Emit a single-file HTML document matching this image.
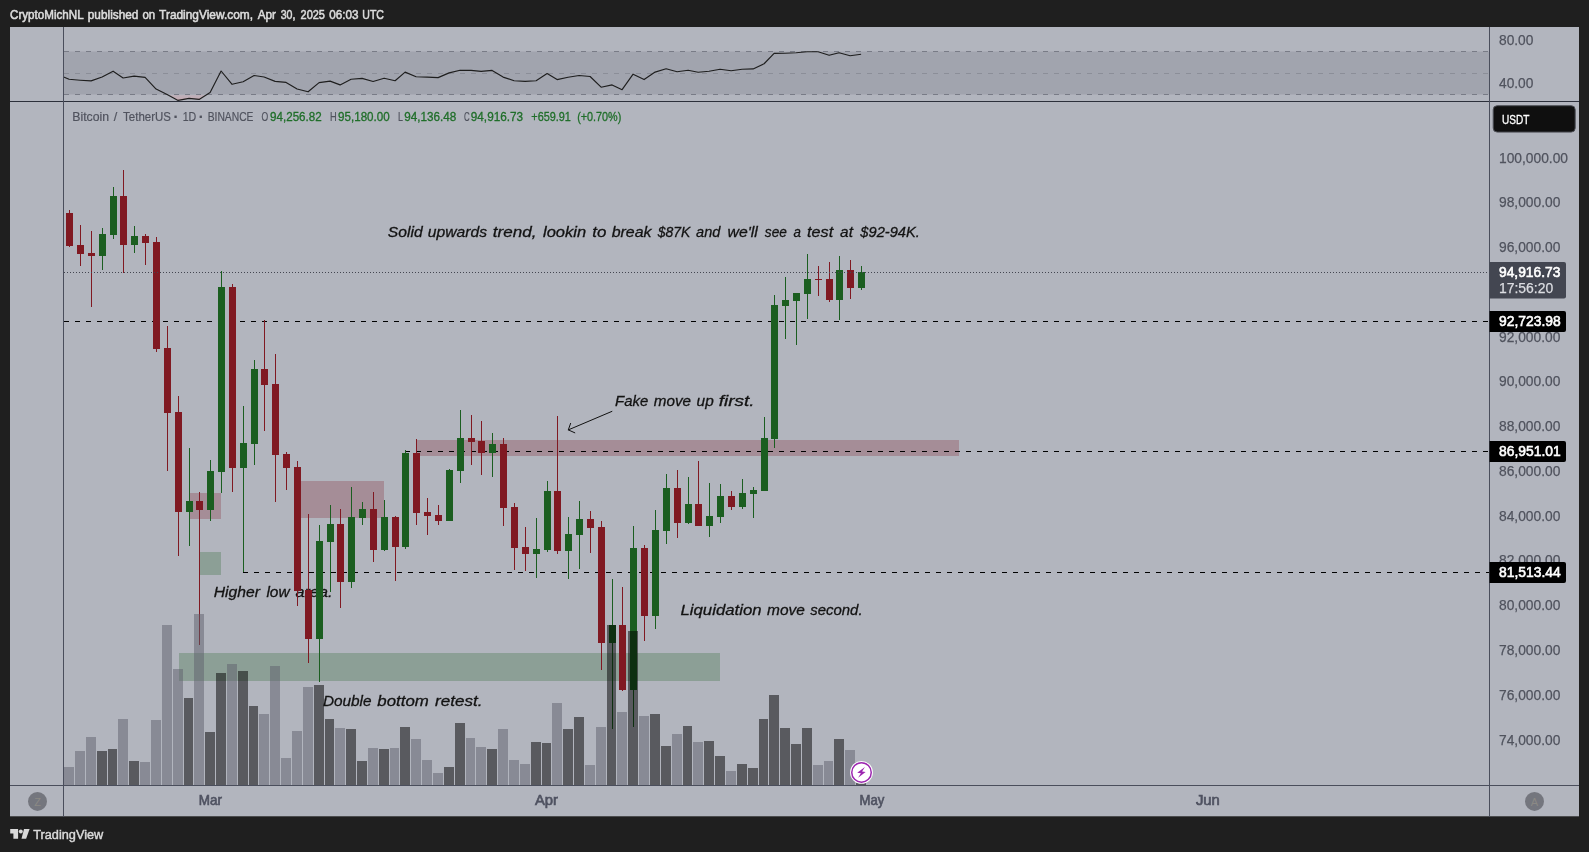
<!DOCTYPE html>
<html lang="en">
<head>
<meta charset="utf-8">
<title>BTCUSDT chart - CryptoMichNL on TradingView</title>
<style>
html,body{margin:0;padding:0;background:#1f1f1f;}
body{width:1589px;height:852px;overflow:hidden;font-family:"Liberation Sans", sans-serif;}
svg{display:block;}
text{white-space:pre;}
</style>
</head>
<body>
<svg width="1589" height="852" viewBox="0 0 1589 852">
<rect x="0" y="0" width="1589" height="852" fill="#1f1f1f"/>
<rect x="10" y="27" width="1569" height="789.3" fill="#b2b5be"/>
<g id="rsi">
<rect x="64" y="51.5" width="1425" height="43" fill="#a1a4ae"/>
<clipPath id="os"><rect x="150" y="95" width="70" height="6"/></clipPath>
<linearGradient id="osg" gradientUnits="userSpaceOnUse" x1="0" y1="94" x2="0" y2="101"><stop offset="0" stop-color="#caa9b1" stop-opacity="0.25"/><stop offset="1" stop-color="#caa9b1" stop-opacity="1"/></linearGradient>
<polygon points="64,94.5 63.6,77 69.1,79.3 80.1,80.2 91.1,80.9 102.1,77 113.1,71.2 123.1,78 134.1,76.1 145.1,77.4 156.1,89.1 167.1,94.4 178.1,100.4 189.1,98.4 199.1,99.4 210.1,92.4 221.1,71 232.1,84.3 243.1,81.75 254.1,75.5 264.1,77 275.1,81.4 286.1,82.4 297.1,89 308.1,91.8 319.1,82.6 330.1,81.1 340.1,84.9 351.1,79.2 362.1,78.35 373.1,81.5 384.1,78.2 395.1,80.7 405.1,72.1 416.1,76.7 427.1,77.1 438.1,77.6 449.1,72.9 460.1,70.2 471.1,70.4 481.1,71.4 492.1,70.4 503.1,77.1 514.1,80.7 525.1,81.4 536.1,80.7 547.1,73.6 557.1,79.6 568.1,77.3 579.1,75.5 590.1,76.5 601.1,87.2 612.1,84.9 622.1,89.7 633.1,74.2 644.1,79.6 655.1,72.1 666.1,68.8 677.1,71.7 688.1,70.2 698.1,72.3 709.1,71.3 720.1,69.3 731.1,70.7 742.1,69.3 753.1,68.9 764.1,63.75 774.1,53.4 785.1,53.2 796.1,52.8 807.1,51.7 818.1,51.7 829.1,55.3 839.1,52.8 850.1,55.7 861.1,54.3 862,94.5" fill="url(#osg)" clip-path="url(#os)"/>
<line x1="64" y1="51.5" x2="1489" y2="51.5" stroke="#787b86" stroke-width="1" stroke-dasharray="5 6" shape-rendering="crispEdges" opacity="1"/>
<line x1="64" y1="73.5" x2="1489" y2="73.5" stroke="#8b8e98" stroke-width="1" stroke-dasharray="5 6" shape-rendering="crispEdges" opacity="1"/>
<line x1="64" y1="94.5" x2="1489" y2="94.5" stroke="#787b86" stroke-width="1" stroke-dasharray="5 6" shape-rendering="crispEdges" opacity="1"/>
<polyline points="63.6,77 69.1,79.3 80.1,80.2 91.1,80.9 102.1,77 113.1,71.2 123.1,78 134.1,76.1 145.1,77.4 156.1,89.1 167.1,94.4 178.1,100.4 189.1,98.4 199.1,99.4 210.1,92.4 221.1,71 232.1,84.3 243.1,81.75 254.1,75.5 264.1,77 275.1,81.4 286.1,82.4 297.1,89 308.1,91.8 319.1,82.6 330.1,81.1 340.1,84.9 351.1,79.2 362.1,78.35 373.1,81.5 384.1,78.2 395.1,80.7 405.1,72.1 416.1,76.7 427.1,77.1 438.1,77.6 449.1,72.9 460.1,70.2 471.1,70.4 481.1,71.4 492.1,70.4 503.1,77.1 514.1,80.7 525.1,81.4 536.1,80.7 547.1,73.6 557.1,79.6 568.1,77.3 579.1,75.5 590.1,76.5 601.1,87.2 612.1,84.9 622.1,89.7 633.1,74.2 644.1,79.6 655.1,72.1 666.1,68.8 677.1,71.7 688.1,70.2 698.1,72.3 709.1,71.3 720.1,69.3 731.1,70.7 742.1,69.3 753.1,68.9 764.1,63.75 774.1,53.4 785.1,53.2 796.1,52.8 807.1,51.7 818.1,51.7 829.1,55.3 839.1,52.8 850.1,55.7 861.1,54.3" fill="none" stroke="#1e1e1e" stroke-width="1.15" stroke-linejoin="round"/>
</g>
<g id="drawings">
<rect x="190" y="493" width="31" height="26" fill="rgba(128,25,34,0.25)"/>
<rect x="200" y="552" width="21" height="23" fill="rgba(27,94,32,0.25)"/>
<rect x="301" y="481" width="83" height="37" fill="rgba(128,25,34,0.25)"/>
<rect x="417" y="440" width="542" height="16" fill="rgba(128,25,34,0.25)"/>
<rect x="179" y="653" width="541" height="28" fill="rgba(27,94,32,0.25)"/>
<line x1="64" y1="321.5" x2="1489" y2="321.5" stroke="#000" stroke-width="1" stroke-dasharray="5 6" shape-rendering="crispEdges"/>
<line x1="405" y1="451.5" x2="1489" y2="451.5" stroke="#000" stroke-width="1" stroke-dasharray="5 6" shape-rendering="crispEdges"/>
<line x1="243" y1="572.5" x2="1489" y2="572.5" stroke="#000" stroke-width="1" stroke-dasharray="5 6" shape-rendering="crispEdges"/>
<g stroke="#111" stroke-width="1" fill="none" stroke-linecap="round"><line x1="611.9" y1="411.4" x2="568.3" y2="429.9"/><polyline points="570.6,423.4 568.3,429.9 574.8,432.8"/></g>
</g>
<g id="notes" font-family='"Liberation Sans", sans-serif' style="filter:brightness(1)" stroke="#131313" stroke-width="0.3">
<text x="387.8" y="236.8" font-size="15" fill="#131313" font-style="italic" textLength="34.8" lengthAdjust="spacingAndGlyphs">Solid</text>
<text x="427.7" y="236.8" font-size="15" fill="#131313" font-style="italic" textLength="59.3" lengthAdjust="spacingAndGlyphs">upwards</text>
<text x="492.8" y="236.8" font-size="15" fill="#131313" font-style="italic" textLength="43.7" lengthAdjust="spacingAndGlyphs">trend,</text>
<text x="543" y="236.8" font-size="15" fill="#131313" font-style="italic" textLength="43.2" lengthAdjust="spacingAndGlyphs">lookin</text>
<text x="592.3" y="236.8" font-size="15" fill="#131313" font-style="italic" textLength="14.1" lengthAdjust="spacingAndGlyphs">to</text>
<text x="611.7" y="236.8" font-size="15" fill="#131313" font-style="italic" textLength="39.9" lengthAdjust="spacingAndGlyphs">break</text>
<text x="657.7" y="236.8" font-size="15" fill="#131313" font-style="italic" textLength="32.6" lengthAdjust="spacingAndGlyphs">$87K</text>
<text x="696.1" y="236.8" font-size="15" fill="#131313" font-style="italic" textLength="24.3" lengthAdjust="spacingAndGlyphs">and</text>
<text x="727.5" y="236.8" font-size="15" fill="#131313" font-style="italic" textLength="30.3" lengthAdjust="spacingAndGlyphs">we'll</text>
<text x="764.8" y="236.8" font-size="15" fill="#131313" font-style="italic" textLength="22.1" lengthAdjust="spacingAndGlyphs">see</text>
<text x="793.5" y="236.8" font-size="15" fill="#131313" font-style="italic" textLength="7.4" lengthAdjust="spacingAndGlyphs">a</text>
<text x="807.1" y="236.8" font-size="15" fill="#131313" font-style="italic" textLength="26.1" lengthAdjust="spacingAndGlyphs">test</text>
<text x="840.1" y="236.8" font-size="15" fill="#131313" font-style="italic" textLength="12.8" lengthAdjust="spacingAndGlyphs">at</text>
<text x="860.3" y="236.8" font-size="15" fill="#131313" font-style="italic" textLength="59.6" lengthAdjust="spacingAndGlyphs">$92-94K.</text>
<text x="615.1" y="405.7" font-size="15" fill="#131313" font-style="italic" textLength="33.2" lengthAdjust="spacingAndGlyphs">Fake</text>
<text x="653.8" y="405.7" font-size="15" fill="#131313" font-style="italic" textLength="37.3" lengthAdjust="spacingAndGlyphs">move</text>
<text x="696.6" y="405.7" font-size="15" fill="#131313" font-style="italic" textLength="17.1" lengthAdjust="spacingAndGlyphs">up</text>
<text x="718.8" y="405.7" font-size="15" fill="#131313" font-style="italic" textLength="35.7" lengthAdjust="spacingAndGlyphs">first.</text>
<text x="213.7" y="596.7" font-size="15" fill="#131313" font-style="italic" textLength="46.2" lengthAdjust="spacingAndGlyphs">Higher</text>
<text x="266.4" y="596.7" font-size="15" fill="#131313" font-style="italic" textLength="23.2" lengthAdjust="spacingAndGlyphs">low</text>
<text x="295.6" y="596.7" font-size="15" fill="#131313" font-style="italic" textLength="36.8" lengthAdjust="spacingAndGlyphs">area.</text>
<text x="680.5" y="614.7" font-size="15" fill="#131313" font-style="italic" textLength="81.1" lengthAdjust="spacingAndGlyphs">Liquidation</text>
<text x="767.1" y="614.7" font-size="15" fill="#131313" font-style="italic" textLength="37.8" lengthAdjust="spacingAndGlyphs">move</text>
<text x="810.2" y="614.7" font-size="15" fill="#131313" font-style="italic" textLength="52.4" lengthAdjust="spacingAndGlyphs">second.</text>
<text x="322.9" y="705.5" font-size="15" fill="#131313" font-style="italic" textLength="48.7" lengthAdjust="spacingAndGlyphs">Double</text>
<text x="377.3" y="705.5" font-size="15" fill="#131313" font-style="italic" textLength="51.5" lengthAdjust="spacingAndGlyphs">bottom</text>
<text x="435.1" y="705.5" font-size="15" fill="#131313" font-style="italic" textLength="47.5" lengthAdjust="spacingAndGlyphs">retest.</text>
</g>
<g id="candles" shape-rendering="crispEdges">
<rect x="69" y="210" width="1" height="37" fill="#801922"/>
<rect x="66" y="213" width="7" height="33" fill="#801922"/>
<rect x="80" y="225" width="1" height="41" fill="#801922"/>
<rect x="77" y="245" width="7" height="9" fill="#801922"/>
<rect x="91" y="231" width="1" height="76" fill="#801922"/>
<rect x="88" y="253" width="7" height="3" fill="#801922"/>
<rect x="102" y="228" width="1" height="42" fill="#1b5e20"/>
<rect x="99" y="234" width="7" height="22" fill="#1b5e20"/>
<rect x="113" y="187" width="1" height="52" fill="#1b5e20"/>
<rect x="110" y="196" width="7" height="39" fill="#1b5e20"/>
<rect x="123" y="170" width="1" height="103" fill="#801922"/>
<rect x="120" y="196" width="7" height="49" fill="#801922"/>
<rect x="134" y="226" width="1" height="27" fill="#1b5e20"/>
<rect x="131" y="236" width="7" height="9" fill="#1b5e20"/>
<rect x="145" y="234" width="1" height="31" fill="#801922"/>
<rect x="142" y="236" width="7" height="7" fill="#801922"/>
<rect x="156" y="237" width="1" height="115" fill="#801922"/>
<rect x="153" y="242" width="7" height="107" fill="#801922"/>
<rect x="167" y="326" width="1" height="145" fill="#801922"/>
<rect x="164" y="348" width="7" height="65" fill="#801922"/>
<rect x="178" y="396" width="1" height="160" fill="#801922"/>
<rect x="175" y="412" width="7" height="100" fill="#801922"/>
<rect x="189" y="448" width="1" height="98" fill="#1b5e20"/>
<rect x="186" y="501" width="7" height="11" fill="#1b5e20"/>
<rect x="199" y="492" width="1" height="153" fill="#801922"/>
<rect x="196" y="501" width="7" height="9" fill="#801922"/>
<rect x="210" y="460" width="1" height="61" fill="#1b5e20"/>
<rect x="207" y="471" width="7" height="39" fill="#1b5e20"/>
<rect x="221" y="271" width="1" height="222" fill="#1b5e20"/>
<rect x="218" y="287" width="7" height="185" fill="#1b5e20"/>
<rect x="232" y="284" width="1" height="208" fill="#801922"/>
<rect x="229" y="287" width="7" height="181" fill="#801922"/>
<rect x="243" y="406" width="1" height="166" fill="#1b5e20"/>
<rect x="240" y="443" width="7" height="25" fill="#1b5e20"/>
<rect x="254" y="360" width="1" height="105" fill="#1b5e20"/>
<rect x="251" y="369" width="7" height="75" fill="#1b5e20"/>
<rect x="264" y="320" width="1" height="111" fill="#801922"/>
<rect x="261" y="369" width="7" height="16" fill="#801922"/>
<rect x="275" y="354" width="1" height="148" fill="#801922"/>
<rect x="272" y="384" width="7" height="71" fill="#801922"/>
<rect x="286" y="452" width="1" height="38" fill="#801922"/>
<rect x="283" y="454" width="7" height="14" fill="#801922"/>
<rect x="297" y="461" width="1" height="145" fill="#801922"/>
<rect x="294" y="467" width="7" height="124" fill="#801922"/>
<rect x="308" y="514" width="1" height="149" fill="#801922"/>
<rect x="305" y="590" width="7" height="49" fill="#801922"/>
<rect x="319" y="525" width="1" height="157" fill="#1b5e20"/>
<rect x="316" y="541" width="7" height="98" fill="#1b5e20"/>
<rect x="330" y="505" width="1" height="87" fill="#1b5e20"/>
<rect x="327" y="524" width="7" height="18" fill="#1b5e20"/>
<rect x="340" y="509" width="1" height="99" fill="#801922"/>
<rect x="337" y="524" width="7" height="58" fill="#801922"/>
<rect x="351" y="487" width="1" height="101" fill="#1b5e20"/>
<rect x="348" y="517" width="7" height="65" fill="#1b5e20"/>
<rect x="362" y="502" width="1" height="23" fill="#1b5e20"/>
<rect x="359" y="509" width="7" height="9" fill="#1b5e20"/>
<rect x="373" y="492" width="1" height="70" fill="#801922"/>
<rect x="370" y="509" width="7" height="41" fill="#801922"/>
<rect x="384" y="500" width="1" height="51" fill="#1b5e20"/>
<rect x="381" y="517" width="7" height="33" fill="#1b5e20"/>
<rect x="395" y="516" width="1" height="65" fill="#801922"/>
<rect x="392" y="517" width="7" height="30" fill="#801922"/>
<rect x="405" y="450" width="1" height="99" fill="#1b5e20"/>
<rect x="402" y="453" width="7" height="94" fill="#1b5e20"/>
<rect x="416" y="439" width="1" height="86" fill="#801922"/>
<rect x="413" y="453" width="7" height="60" fill="#801922"/>
<rect x="427" y="498" width="1" height="37" fill="#801922"/>
<rect x="424" y="512" width="7" height="4" fill="#801922"/>
<rect x="438" y="505" width="1" height="20" fill="#801922"/>
<rect x="435" y="515" width="7" height="6" fill="#801922"/>
<rect x="449" y="469" width="1" height="52" fill="#1b5e20"/>
<rect x="446" y="470" width="7" height="51" fill="#1b5e20"/>
<rect x="460" y="410" width="1" height="73" fill="#1b5e20"/>
<rect x="457" y="438" width="7" height="33" fill="#1b5e20"/>
<rect x="471" y="415" width="1" height="50" fill="#801922"/>
<rect x="468" y="438" width="7" height="4" fill="#801922"/>
<rect x="481" y="421" width="1" height="54" fill="#801922"/>
<rect x="478" y="441" width="7" height="12" fill="#801922"/>
<rect x="492" y="433" width="1" height="44" fill="#1b5e20"/>
<rect x="489" y="444" width="7" height="9" fill="#1b5e20"/>
<rect x="503" y="438" width="1" height="88" fill="#801922"/>
<rect x="500" y="444" width="7" height="64" fill="#801922"/>
<rect x="514" y="503" width="1" height="67" fill="#801922"/>
<rect x="511" y="507" width="7" height="41" fill="#801922"/>
<rect x="525" y="527" width="1" height="44" fill="#801922"/>
<rect x="522" y="547" width="7" height="7" fill="#801922"/>
<rect x="536" y="518" width="1" height="60" fill="#1b5e20"/>
<rect x="533" y="549" width="7" height="5" fill="#1b5e20"/>
<rect x="547" y="481" width="1" height="71" fill="#1b5e20"/>
<rect x="544" y="491" width="7" height="59" fill="#1b5e20"/>
<rect x="557" y="416" width="1" height="138" fill="#801922"/>
<rect x="554" y="491" width="7" height="60" fill="#801922"/>
<rect x="568" y="517" width="1" height="62" fill="#1b5e20"/>
<rect x="565" y="534" width="7" height="17" fill="#1b5e20"/>
<rect x="579" y="501" width="1" height="68" fill="#1b5e20"/>
<rect x="576" y="519" width="7" height="16" fill="#1b5e20"/>
<rect x="590" y="511" width="1" height="42" fill="#801922"/>
<rect x="587" y="519" width="7" height="9" fill="#801922"/>
<rect x="601" y="521" width="1" height="149" fill="#801922"/>
<rect x="598" y="527" width="7" height="116" fill="#801922"/>
<rect x="612" y="579" width="1" height="150" fill="#1b5e20"/>
<rect x="609" y="625" width="7" height="18" fill="#1b5e20"/>
<rect x="622" y="587" width="1" height="104" fill="#801922"/>
<rect x="619" y="625" width="7" height="65" fill="#801922"/>
<rect x="633" y="526" width="1" height="201" fill="#1b5e20"/>
<rect x="630" y="548" width="7" height="142" fill="#1b5e20"/>
<rect x="644" y="545" width="1" height="96" fill="#801922"/>
<rect x="641" y="548" width="7" height="68" fill="#801922"/>
<rect x="655" y="510" width="1" height="119" fill="#1b5e20"/>
<rect x="652" y="530" width="7" height="86" fill="#1b5e20"/>
<rect x="666" y="474" width="1" height="70" fill="#1b5e20"/>
<rect x="663" y="488" width="7" height="43" fill="#1b5e20"/>
<rect x="677" y="470" width="1" height="68" fill="#801922"/>
<rect x="674" y="488" width="7" height="35" fill="#801922"/>
<rect x="688" y="477" width="1" height="47" fill="#1b5e20"/>
<rect x="685" y="504" width="7" height="19" fill="#1b5e20"/>
<rect x="698" y="461" width="1" height="65" fill="#801922"/>
<rect x="695" y="504" width="7" height="22" fill="#801922"/>
<rect x="709" y="483" width="1" height="54" fill="#1b5e20"/>
<rect x="706" y="516" width="7" height="10" fill="#1b5e20"/>
<rect x="720" y="484" width="1" height="39" fill="#1b5e20"/>
<rect x="717" y="496" width="7" height="21" fill="#1b5e20"/>
<rect x="731" y="491" width="1" height="19" fill="#801922"/>
<rect x="728" y="496" width="7" height="11" fill="#801922"/>
<rect x="742" y="479" width="1" height="30" fill="#1b5e20"/>
<rect x="739" y="493" width="7" height="14" fill="#1b5e20"/>
<rect x="753" y="487" width="1" height="31" fill="#1b5e20"/>
<rect x="750" y="490" width="7" height="4" fill="#1b5e20"/>
<rect x="764" y="417" width="1" height="74" fill="#1b5e20"/>
<rect x="761" y="438" width="7" height="53" fill="#1b5e20"/>
<rect x="774" y="295" width="1" height="153" fill="#1b5e20"/>
<rect x="771" y="305" width="7" height="134" fill="#1b5e20"/>
<rect x="785" y="277" width="1" height="62" fill="#1b5e20"/>
<rect x="782" y="300" width="7" height="6" fill="#1b5e20"/>
<rect x="796" y="293" width="1" height="52" fill="#1b5e20"/>
<rect x="793" y="293" width="7" height="8" fill="#1b5e20"/>
<rect x="807" y="254" width="1" height="65" fill="#1b5e20"/>
<rect x="804" y="279" width="7" height="15" fill="#1b5e20"/>
<rect x="818" y="266" width="1" height="30" fill="#801922"/>
<rect x="815" y="279" width="7" height="1" fill="#801922"/>
<rect x="829" y="262" width="1" height="40" fill="#801922"/>
<rect x="826" y="279" width="7" height="21" fill="#801922"/>
<rect x="839" y="256" width="1" height="64" fill="#1b5e20"/>
<rect x="836" y="270" width="7" height="30" fill="#1b5e20"/>
<rect x="850" y="260" width="1" height="39" fill="#801922"/>
<rect x="847" y="270" width="7" height="18" fill="#801922"/>
<rect x="861" y="266" width="1" height="24" fill="#1b5e20"/>
<rect x="858" y="272" width="7" height="16" fill="#1b5e20"/>
</g>
<g id="volume" shape-rendering="crispEdges">
<rect x="64" y="767" width="10" height="18" fill="rgba(93,96,107,0.5)"/>
<rect x="75" y="751" width="10" height="34" fill="rgba(93,96,107,0.5)"/>
<rect x="86" y="737" width="10" height="48" fill="rgba(93,96,107,0.5)"/>
<rect x="97" y="751" width="10" height="34" fill="rgba(0,0,0,0.5)"/>
<rect x="108" y="749" width="9" height="36" fill="rgba(0,0,0,0.5)"/>
<rect x="118" y="719" width="10" height="66" fill="rgba(93,96,107,0.5)"/>
<rect x="129" y="761" width="10" height="24" fill="rgba(0,0,0,0.5)"/>
<rect x="140" y="762" width="10" height="23" fill="rgba(93,96,107,0.5)"/>
<rect x="151" y="720" width="10" height="65" fill="rgba(93,96,107,0.5)"/>
<rect x="162" y="625" width="10" height="160" fill="rgba(93,96,107,0.5)"/>
<rect x="173" y="669" width="10" height="116" fill="rgba(93,96,107,0.5)"/>
<rect x="184" y="698" width="9" height="87" fill="rgba(0,0,0,0.5)"/>
<rect x="194" y="614" width="10" height="171" fill="rgba(93,96,107,0.5)"/>
<rect x="205" y="732" width="10" height="53" fill="rgba(0,0,0,0.5)"/>
<rect x="216" y="673" width="10" height="112" fill="rgba(0,0,0,0.5)"/>
<rect x="227" y="664" width="10" height="121" fill="rgba(93,96,107,0.5)"/>
<rect x="238" y="671" width="10" height="114" fill="rgba(0,0,0,0.5)"/>
<rect x="249" y="706" width="9" height="79" fill="rgba(0,0,0,0.5)"/>
<rect x="259" y="714" width="10" height="71" fill="rgba(93,96,107,0.5)"/>
<rect x="270" y="666" width="10" height="119" fill="rgba(93,96,107,0.5)"/>
<rect x="281" y="758" width="10" height="27" fill="rgba(93,96,107,0.5)"/>
<rect x="292" y="731" width="10" height="54" fill="rgba(93,96,107,0.5)"/>
<rect x="303" y="687" width="10" height="98" fill="rgba(93,96,107,0.5)"/>
<rect x="314" y="685" width="10" height="100" fill="rgba(0,0,0,0.5)"/>
<rect x="325" y="719" width="9" height="66" fill="rgba(0,0,0,0.5)"/>
<rect x="335" y="728" width="10" height="57" fill="rgba(93,96,107,0.5)"/>
<rect x="346" y="729" width="10" height="56" fill="rgba(0,0,0,0.5)"/>
<rect x="357" y="761" width="10" height="24" fill="rgba(0,0,0,0.5)"/>
<rect x="368" y="748" width="10" height="37" fill="rgba(93,96,107,0.5)"/>
<rect x="379" y="749" width="10" height="36" fill="rgba(0,0,0,0.5)"/>
<rect x="390" y="748" width="9" height="37" fill="rgba(93,96,107,0.5)"/>
<rect x="400" y="727" width="10" height="58" fill="rgba(0,0,0,0.5)"/>
<rect x="411" y="739" width="10" height="46" fill="rgba(93,96,107,0.5)"/>
<rect x="422" y="760" width="10" height="25" fill="rgba(93,96,107,0.5)"/>
<rect x="433" y="773" width="10" height="12" fill="rgba(93,96,107,0.5)"/>
<rect x="444" y="767" width="10" height="18" fill="rgba(0,0,0,0.5)"/>
<rect x="455" y="723" width="10" height="62" fill="rgba(0,0,0,0.5)"/>
<rect x="466" y="738" width="9" height="47" fill="rgba(93,96,107,0.5)"/>
<rect x="476" y="747" width="10" height="38" fill="rgba(93,96,107,0.5)"/>
<rect x="487" y="749" width="10" height="36" fill="rgba(0,0,0,0.5)"/>
<rect x="498" y="729" width="10" height="56" fill="rgba(93,96,107,0.5)"/>
<rect x="509" y="760" width="10" height="25" fill="rgba(93,96,107,0.5)"/>
<rect x="520" y="764" width="10" height="21" fill="rgba(93,96,107,0.5)"/>
<rect x="531" y="742" width="10" height="43" fill="rgba(0,0,0,0.5)"/>
<rect x="542" y="743" width="9" height="42" fill="rgba(0,0,0,0.5)"/>
<rect x="552" y="703" width="10" height="82" fill="rgba(93,96,107,0.5)"/>
<rect x="563" y="729" width="10" height="56" fill="rgba(0,0,0,0.5)"/>
<rect x="574" y="717" width="10" height="68" fill="rgba(0,0,0,0.5)"/>
<rect x="585" y="765" width="10" height="20" fill="rgba(93,96,107,0.5)"/>
<rect x="596" y="727" width="10" height="58" fill="rgba(93,96,107,0.5)"/>
<rect x="607" y="625" width="9" height="160" fill="rgba(0,0,0,0.5)"/>
<rect x="617" y="712" width="10" height="73" fill="rgba(93,96,107,0.5)"/>
<rect x="628" y="631" width="10" height="154" fill="rgba(0,0,0,0.5)"/>
<rect x="639" y="716" width="10" height="69" fill="rgba(93,96,107,0.5)"/>
<rect x="650" y="714" width="10" height="71" fill="rgba(0,0,0,0.5)"/>
<rect x="661" y="746" width="10" height="39" fill="rgba(0,0,0,0.5)"/>
<rect x="672" y="734" width="10" height="51" fill="rgba(93,96,107,0.5)"/>
<rect x="683" y="726" width="9" height="59" fill="rgba(0,0,0,0.5)"/>
<rect x="693" y="742" width="10" height="43" fill="rgba(93,96,107,0.5)"/>
<rect x="704" y="741" width="10" height="44" fill="rgba(0,0,0,0.5)"/>
<rect x="715" y="756" width="10" height="29" fill="rgba(0,0,0,0.5)"/>
<rect x="726" y="771" width="10" height="14" fill="rgba(93,96,107,0.5)"/>
<rect x="737" y="764" width="10" height="21" fill="rgba(0,0,0,0.5)"/>
<rect x="748" y="768" width="10" height="17" fill="rgba(0,0,0,0.5)"/>
<rect x="759" y="719" width="9" height="66" fill="rgba(0,0,0,0.5)"/>
<rect x="769" y="695" width="10" height="90" fill="rgba(0,0,0,0.5)"/>
<rect x="780" y="728" width="10" height="57" fill="rgba(0,0,0,0.5)"/>
<rect x="791" y="744" width="10" height="41" fill="rgba(0,0,0,0.5)"/>
<rect x="802" y="728" width="10" height="57" fill="rgba(0,0,0,0.5)"/>
<rect x="813" y="765" width="10" height="20" fill="rgba(93,96,107,0.5)"/>
<rect x="824" y="761" width="9" height="24" fill="rgba(93,96,107,0.5)"/>
<rect x="834" y="739" width="10" height="46" fill="rgba(0,0,0,0.5)"/>
<rect x="845" y="750" width="10" height="35" fill="rgba(93,96,107,0.5)"/>
<rect x="856" y="783" width="10" height="2" fill="rgba(0,0,0,0.5)"/>
</g>
<line x1="64" y1="272.5" x2="1489" y2="272.5" stroke="#434651" stroke-width="1" stroke-dasharray="1 2" shape-rendering="crispEdges"/>
<g id="axes" shape-rendering="crispEdges">
<rect x="10" y="101" width="1569" height="1" fill="#2c303b"/>
<rect x="63" y="27" width="1" height="790" fill="#4a4e5c"/>
<rect x="1489" y="27" width="1" height="790" fill="#4a4e5c"/>
<rect x="10" y="785" width="1569" height="1" fill="#4a4e5c"/>
</g>
<g id="labels" font-family='"Liberation Sans", sans-serif' style="filter:brightness(1)">
<g stroke="#50535e" stroke-width="0.25">
<text x="1499" y="45.3" font-size="14" fill="#50535e" textLength="34.4" lengthAdjust="spacingAndGlyphs">80.00</text>
<text x="1499" y="88.2" font-size="14" fill="#50535e" textLength="34.4" lengthAdjust="spacingAndGlyphs">40.00</text>
<text x="1499" y="163.2" font-size="14" fill="#50535e" textLength="69" lengthAdjust="spacingAndGlyphs">100,000.00</text>
<text x="1499" y="207.2" font-size="14" fill="#50535e" textLength="61.4" lengthAdjust="spacingAndGlyphs">98,000.00</text>
<text x="1499" y="252.2" font-size="14" fill="#50535e" textLength="61.4" lengthAdjust="spacingAndGlyphs">96,000.00</text>
<text x="1499" y="342.2" font-size="14" fill="#50535e" textLength="61.4" lengthAdjust="spacingAndGlyphs">92,000.00</text>
<text x="1499" y="386.2" font-size="14" fill="#50535e" textLength="61.4" lengthAdjust="spacingAndGlyphs">90,000.00</text>
<text x="1499" y="431.2" font-size="14" fill="#50535e" textLength="61.4" lengthAdjust="spacingAndGlyphs">88,000.00</text>
<text x="1499" y="476.2" font-size="14" fill="#50535e" textLength="61.4" lengthAdjust="spacingAndGlyphs">86,000.00</text>
<text x="1499" y="521.2" font-size="14" fill="#50535e" textLength="61.4" lengthAdjust="spacingAndGlyphs">84,000.00</text>
<text x="1499" y="565.2" font-size="14" fill="#50535e" textLength="61.4" lengthAdjust="spacingAndGlyphs">82,000.00</text>
<text x="1499" y="610.2" font-size="14" fill="#50535e" textLength="61.4" lengthAdjust="spacingAndGlyphs">80,000.00</text>
<text x="1499" y="655.2" font-size="14" fill="#50535e" textLength="61.4" lengthAdjust="spacingAndGlyphs">78,000.00</text>
<text x="1499" y="700.2" font-size="14" fill="#50535e" textLength="61.4" lengthAdjust="spacingAndGlyphs">76,000.00</text>
<text x="1499" y="745.2" font-size="14" fill="#50535e" textLength="61.4" lengthAdjust="spacingAndGlyphs">74,000.00</text>
</g>
<rect x="1493.2" y="105.7" width="82" height="26.4" rx="4" fill="#0f0f0f" stroke="#4e5057" stroke-width="1"/>
<text x="1502" y="123.7" font-size="12" fill="#ffffff" textLength="27.4" lengthAdjust="spacingAndGlyphs" stroke="#fff" stroke-width="0.3">USDT</text>
<path d="M1489.5 311.0h74.5a2 2 0 0 1 2 2v17a2 2 0 0 1 -2 2h-74.5z" fill="#000"/>
<text x="1499" y="326" font-size="14" fill="#ffffff" textLength="61.7" lengthAdjust="spacingAndGlyphs" stroke="#fff" stroke-width="0.6">92,723.98</text>
<path d="M1489.5 441.0h74.5a2 2 0 0 1 2 2v17a2 2 0 0 1 -2 2h-74.5z" fill="#000"/>
<text x="1499" y="456" font-size="14" fill="#ffffff" textLength="61.7" lengthAdjust="spacingAndGlyphs" stroke="#fff" stroke-width="0.6">86,951.01</text>
<path d="M1489.5 562.0h74.5a2 2 0 0 1 2 2v17a2 2 0 0 1 -2 2h-74.5z" fill="#000"/>
<text x="1499" y="577" font-size="14" fill="#ffffff" textLength="61.7" lengthAdjust="spacingAndGlyphs" stroke="#fff" stroke-width="0.6">81,513.44</text>
<path d="M1489.5 262h74.5a2 2 0 0 1 2 2v32.5a2 2 0 0 1 -2 2h-74.5z" fill="#434651"/>
<text x="1499" y="276.9" font-size="14" fill="#ffffff" textLength="61.4" lengthAdjust="spacingAndGlyphs" stroke="#fff" stroke-width="0.6">94,916.73</text>
<text x="1499" y="292.9" font-size="14" fill="#dcdde2" textLength="54.2" lengthAdjust="spacingAndGlyphs" stroke="#dcdde2" stroke-width="0.25">17:56:20</text>
<g stroke="#4f5261" stroke-width="0.65">
<text x="198.8" y="804.9" font-size="14.2" fill="#4f5261" textLength="23.2" lengthAdjust="spacingAndGlyphs">Mar</text>
<text x="534.9" y="804.9" font-size="14.2" fill="#4f5261" textLength="23" lengthAdjust="spacingAndGlyphs">Apr</text>
<text x="859.6" y="804.9" font-size="14.2" fill="#4f5261" textLength="24.8" lengthAdjust="spacingAndGlyphs">May</text>
<text x="1195.9" y="804.9" font-size="14.2" fill="#4f5261" textLength="23.9" lengthAdjust="spacingAndGlyphs">Jun</text>
</g>
<g stroke="#50535e" stroke-width="0.2">
<text x="72.3" y="121" font-size="12" fill="#50535e" textLength="36.8" lengthAdjust="spacingAndGlyphs">Bitcoin</text>
<text x="123.1" y="121" font-size="12" fill="#50535e" textLength="47.8" lengthAdjust="spacingAndGlyphs">TetherUS</text>
<text x="182.7" y="121" font-size="12" fill="#50535e" textLength="13.6" lengthAdjust="spacingAndGlyphs">1D</text>
<text x="207.7" y="121" font-size="12" fill="#50535e" textLength="45.8" lengthAdjust="spacingAndGlyphs">BINANCE</text>
<text x="115.5" y="121" font-size="12.5" fill="#50535e" text-anchor="middle">/</text>
<text x="176" y="121.5" font-size="15" fill="#50535e" font-weight="bold" text-anchor="middle">·</text>
<text x="201.3" y="121.5" font-size="15" fill="#50535e" font-weight="bold" text-anchor="middle">·</text>
</g>
<g stroke="#50535e" stroke-width="0.2">
<text x="261.5" y="121" font-size="12" fill="#50535e" textLength="6.7" lengthAdjust="spacingAndGlyphs">O</text>
<text x="330.1" y="121" font-size="12" fill="#50535e" textLength="6.7" lengthAdjust="spacingAndGlyphs">H</text>
<text x="397.9" y="121" font-size="12" fill="#50535e" textLength="5" lengthAdjust="spacingAndGlyphs">L</text>
<text x="463.9" y="121" font-size="12" fill="#50535e" textLength="5.7" lengthAdjust="spacingAndGlyphs">C</text>
</g>
<g stroke="#1f6e29" stroke-width="0.3">
<text x="270.1" y="121" font-size="12" fill="#1f6e29" textLength="51.6" lengthAdjust="spacingAndGlyphs">94,256.82</text>
<text x="338.1" y="121" font-size="12" fill="#1f6e29" textLength="51.6" lengthAdjust="spacingAndGlyphs">95,180.00</text>
<text x="404.2" y="121" font-size="12" fill="#1f6e29" textLength="52.1" lengthAdjust="spacingAndGlyphs">94,136.48</text>
<text x="470.8" y="121" font-size="12" fill="#1f6e29" textLength="52.3" lengthAdjust="spacingAndGlyphs">94,916.73</text>
<text x="531.3" y="121" font-size="12" fill="#1f6e29" textLength="39.6" lengthAdjust="spacingAndGlyphs">+659.91</text>
<text x="577.2" y="121" font-size="12" fill="#1f6e29" textLength="44.1" lengthAdjust="spacingAndGlyphs">(+0.70%)</text>
</g>
<g stroke="#dcdcdc" stroke-width="0.55">
<text x="10" y="18.9" font-size="12" fill="#dcdcdc" textLength="73.6" lengthAdjust="spacingAndGlyphs">CryptoMichNL</text>
<text x="87.8" y="18.9" font-size="12" fill="#dcdcdc" textLength="50.6" lengthAdjust="spacingAndGlyphs">published</text>
<text x="142.5" y="18.9" font-size="12" fill="#dcdcdc" textLength="12.7" lengthAdjust="spacingAndGlyphs">on</text>
<text x="159.1" y="18.9" font-size="12" fill="#dcdcdc" textLength="93.9" lengthAdjust="spacingAndGlyphs">TradingView.com,</text>
<text x="257.7" y="18.9" font-size="12" fill="#dcdcdc" textLength="18.3" lengthAdjust="spacingAndGlyphs">Apr</text>
<text x="280.7" y="18.9" font-size="12" fill="#dcdcdc" textLength="14.7" lengthAdjust="spacingAndGlyphs">30,</text>
<text x="300.6" y="18.9" font-size="12" fill="#dcdcdc" textLength="24.3" lengthAdjust="spacingAndGlyphs">2025</text>
<text x="329.3" y="18.9" font-size="12" fill="#dcdcdc" textLength="29.2" lengthAdjust="spacingAndGlyphs">06:03</text>
<text x="362.3" y="18.9" font-size="12" fill="#dcdcdc" textLength="21.7" lengthAdjust="spacingAndGlyphs">UTC</text>
</g>
<text x="33.2" y="838.7" font-size="12.5" fill="#d9d9d9" textLength="70.1" lengthAdjust="spacingAndGlyphs" stroke="#d9d9d9" stroke-width="0.45">TradingView</text>
</g>
<g id="icons">
<g fill="#d9d9d9"><path d="M10.2 829h7.9v9.7h-4.7v-5.3h-3.2z"/><circle cx="20.8" cy="831.4" r="2"/><path d="M24 829h5.6l-3.5 9.7h-4.6z"/></g>
<circle cx="37.5" cy="801.4" r="9.5" fill="#74767e"/>
<text x="37.5" y="805.8" font-size="11" fill="#8b8985" text-anchor="middle" font-family='"Liberation Sans", sans-serif'>Z</text>
<circle cx="1534.5" cy="801.4" r="9.5" fill="#74767e"/>
<text x="1534.5" y="805.8" font-size="11" fill="#8b8985" text-anchor="middle" font-family='"Liberation Sans", sans-serif'>A</text>
<g transform="translate(861.5 772.4)"><circle r="11.4" fill="#fff"/><circle r="9.75" fill="#fff" stroke="#9c27b0" stroke-width="1.5"/><path d="M3.4 -5.4L0.6 -0.9L4.1 -0.4L-3.4 5.4L-0.6 0.9L-4.3 0.4z" fill="#9c27b0"/></g>
</g>
</svg>
</body>
</html>
